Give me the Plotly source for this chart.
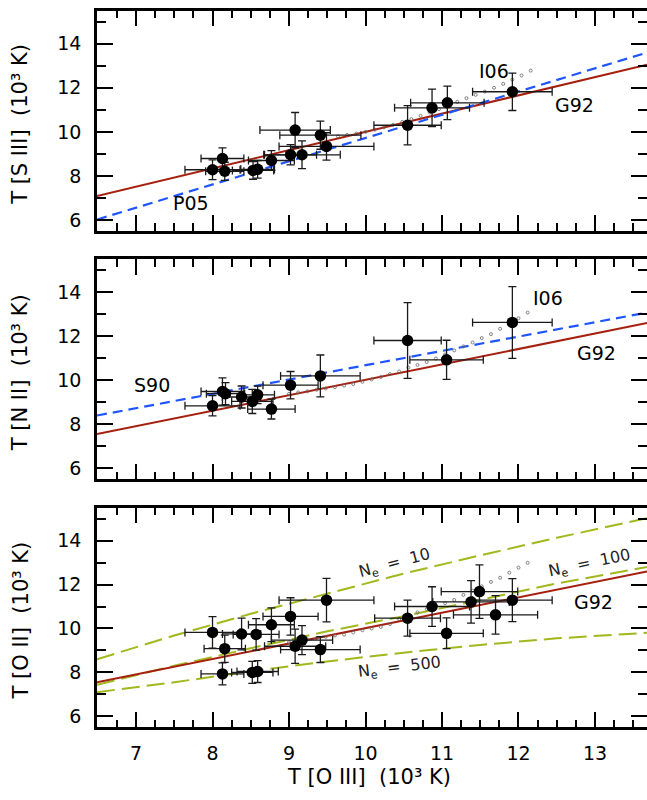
import plotly.graph_objects as go

# ---------------- data (10^3 K) ----------------
# Panel 1: T[S III] vs T[O III]
s3_x  = [8.00, 8.13, 8.16, 8.53, 8.59, 8.77, 9.02, 9.08, 9.17, 9.41, 9.49, 10.55, 10.87, 11.07, 11.92]
s3_y  = [8.28, 8.79, 8.21, 8.25, 8.30, 8.70, 8.96, 10.08, 8.96, 9.85, 9.34, 10.30, 11.09, 11.32, 11.82]
s3_ex = [0.36, 0.28, 0.25, 0.27, 0.22, 0.30, 0.34, 0.46, 0.50, 0.53, 0.62, 0.44, 0.49, 0.48, 0.52]
s3_ey = [0.45, 0.48, 0.41, 0.40, 0.40, 0.45, 0.46, 0.80, 0.63, 0.64, 0.62, 0.89, 0.85, 0.76, 0.85]

# Panel 2: T[N II] vs T[O III]
n2_x  = [8.00, 8.13, 8.17, 8.38, 8.52, 8.59, 8.77, 9.02, 9.41, 10.55, 11.06, 11.92]
n2_y  = [8.84, 9.49, 9.39, 9.24, 9.04, 9.34, 8.69, 9.78, 10.20, 11.81, 10.93, 12.63]
n2_ex = [0.36, 0.28, 0.25, 0.25, 0.27, 0.22, 0.31, 0.36, 0.52, 0.44, 0.48, 0.52]
n2_ey = [0.46, 0.62, 0.50, 0.50, 0.55, 0.40, 0.45, 0.62, 0.95, 1.72, 0.89, 1.63]

# Panel 3: T[O II] vs T[O III]
o2_x  = [8.00, 8.16, 8.13, 8.38, 8.52, 8.59, 8.57, 8.77, 9.02, 9.08, 9.17, 9.41, 9.49,
         10.55, 10.87, 11.06, 11.38, 11.49, 11.70, 11.92]
o2_y  = [9.82, 9.08, 7.93, 9.75, 8.00, 8.04, 9.73, 10.17, 10.55, 9.19, 9.47, 9.04, 11.29,
         10.47, 11.00, 9.78, 11.21, 11.68, 10.62, 11.29]
o2_ex = [0.36, 0.27, 0.28, 0.25, 0.27, 0.27, 0.30, 0.30, 0.36, 0.40, 0.40, 0.52, 0.62,
         0.43, 0.49, 0.48, 0.50, 0.50, 0.55, 0.52]
o2_ey = [0.72, 0.62, 0.50, 0.72, 0.50, 0.50, 0.72, 0.77, 0.85, 0.78, 0.66, 0.59, 0.99,
         0.82, 0.90, 0.70, 0.97, 1.22, 0.88, 0.98]

# Relations (endpoints / points)
line_x = [6.49, 13.68]
g92_s3 = [7.09, 13.05]
p05_s3 = [6.02, 13.60]
g92_n2 = [7.56, 12.60]
s90_n2 = [8.40, 13.08]
g92_o2 = [7.55, 12.60]

ne_x     = [6.49, 7.5, 8.5, 9.5, 10.5, 11.5, 12.5, 13.68]
ne10_y   = [8.60, 9.68, 10.67, 11.60, 12.50, 13.33, 14.13, 15.02]
ne100_y  = [7.44, 8.30, 9.10, 9.87, 10.56, 11.30, 12.05, 12.80]
ne500_y  = [7.10, 7.55, 8.05, 8.50, 8.90, 9.25, 9.55, 9.80]

# I06 dotted relations
i06_s3_x = [9.64, 9.76, 9.88, 10.00, 10.12, 10.24, 10.36, 10.48, 10.60, 10.72, 10.84,
            10.96, 11.08, 11.20, 11.32, 11.44, 11.56, 11.68, 11.80, 11.92, 12.04, 12.16]
i06_s3_y = [9.80, 9.86, 9.92, 10.00, 10.10, 10.20, 10.32, 10.45, 10.58, 10.73, 10.88,
            11.03, 11.19, 11.36, 11.53, 11.68, 11.83, 12.00, 12.18, 12.37, 12.56, 12.78]
i06_x    = [9.00, 9.12, 9.24, 9.36, 9.48, 9.60, 9.72, 9.84, 9.96, 10.08, 10.20, 10.32, 10.44,
            10.56, 10.68, 10.80, 10.92, 11.04, 11.16, 11.28, 11.40, 11.52, 11.64, 11.76,
            11.88, 12.00, 12.12]
i06_n2_y = [9.38, 9.45, 9.50, 9.57, 9.63, 9.69, 9.76, 9.83, 9.93, 10.04, 10.15, 10.28, 10.40,
            10.58, 10.70, 10.83, 10.99, 11.17, 11.36, 11.54, 11.72, 11.92, 12.10, 12.34,
            12.58, 12.82, 13.08]
i06_o2_y = [9.37, 9.44, 9.50, 9.56, 9.62, 9.68, 9.72, 9.82, 9.92, 10.00, 10.07, 10.20, 10.43,
            10.62, 10.73, 10.88, 11.02, 11.15, 11.30, 11.53, 11.72, 11.92, 12.12, 12.31,
            12.54, 12.77, 12.99]

x_ticks = [7, 8, 9, 10, 11, 12, 13]
y_ticks = [6, 8, 10, 12, 14]

# ---------------- styling ----------------
FONT = "DejaVu Sans"
RED = "#a5200f"
BLUE = "#1f55ff"
GREEN = "#a2b81c"
W, H = 647, 800
ML = 97
PW = W - ML
panel_px = [(10.7, 231.0), (259.3, 479.3), (507.7, 727.3)]
XR = [6.49, 13.68]
YR = [5.5, 15.5]
TICKFS = 19
LABFS = 19
TITLEFS = 21
NB = "\u00a0"

fig = go.Figure()

def add_line(x, y, ax, color, dash, width=2.0):
    fig.add_trace(go.Scatter(x=x, y=y, mode="lines", xaxis=ax[0], yaxis=ax[1],
                             line=dict(color=color, width=width, dash=dash),
                             hoverinfo="skip", showlegend=False))

def add_dots(x, y, ax):
    fig.add_trace(go.Scatter(x=x, y=y, mode="markers", xaxis=ax[0], yaxis=ax[1],
                             marker=dict(symbol="circle-open", size=3, color="#666",
                                         line=dict(width=0.8, color="#666")),
                             hoverinfo="skip", showlegend=False))

def add_points(x, y, ex, ey, ax):
    fig.add_trace(go.Scatter(x=x, y=y, mode="markers", xaxis=ax[0], yaxis=ax[1],
                             marker=dict(size=11.5, color="black"),
                             error_x=dict(type="data", array=ex, color="#1a1a1a", thickness=1.3, width=4),
                             error_y=dict(type="data", array=ey, color="#1a1a1a", thickness=1.3, width=4),
                             showlegend=False))

axes = [("x", "y"), ("x2", "y2"), ("x3", "y3")]

# Panel 1
add_line(line_x, g92_s3, axes[0], RED, "solid")
add_line(line_x, p05_s3, axes[0], BLUE, "10px,6px", 2.2)
add_dots(i06_s3_x, i06_s3_y, axes[0])
add_points(s3_x, s3_y, s3_ex, s3_ey, axes[0])
# Panel 2
add_line(line_x, g92_n2, axes[1], RED, "solid")
add_line(line_x, s90_n2, axes[1], BLUE, "10px,6px", 2.2)
add_dots(i06_x, i06_n2_y, axes[1])
add_points(n2_x, n2_y, n2_ex, n2_ey, axes[1])
# Panel 3
add_line(ne_x, ne10_y, axes[2], GREEN, "18px,7px")
add_line(ne_x, ne100_y, axes[2], GREEN, "18px,7px")
add_line(ne_x, ne500_y, axes[2], GREEN, "18px,7px")
add_line(line_x, g92_o2, axes[2], RED, "solid")
add_dots(i06_x, i06_o2_y, axes[2])
add_points(o2_x, o2_y, o2_ex, o2_ey, axes[2])

# empty traces to activate right-side tick axes
for i in range(3):
    fig.add_trace(go.Scatter(x=[None], y=[None], xaxis=axes[i][0], yaxis="y%d" % (i + 4),
                             showlegend=False, hoverinfo="skip"))

layout = dict(width=W, height=H, margin=dict(l=ML, r=0, t=0, b=0),
              plot_bgcolor="white", paper_bgcolor="white",
              font=dict(family=FONT, size=18, color="black"), showlegend=False)

for i, (top, bot) in enumerate(panel_px):
    dom = [1 - bot / H, 1 - top / H]
    xn = "xaxis" if i == 0 else "xaxis%d" % (i + 1)
    yn = "yaxis" if i == 0 else "yaxis%d" % (i + 1)
    ya = "y" if i == 0 else "y%d" % (i + 1)
    xa = "x" if i == 0 else "x%d" % (i + 1)
    layout[xn] = dict(domain=[0, 1], anchor=ya, range=XR, showgrid=False, zeroline=False,
                      showline=True, linewidth=2.5, linecolor="black", mirror="ticks",
                      ticks="inside", ticklen=16, tickwidth=2, tickcolor="black",
                      tickvals=x_ticks, showticklabels=(i == 2), ticklabelstandoff=7,
                      tickfont=dict(size=TICKFS),
                      minor=dict(dtick=0.25, tick0=0, ticks="inside", ticklen=8, tickwidth=2,
                                 tickcolor="black", showgrid=False))
    layout[yn] = dict(domain=dom, anchor=xa, range=YR, showgrid=False, zeroline=False,
                      showline=True, linewidth=2.5, linecolor="black", mirror=False,
                      ticks="inside", ticklen=16, tickwidth=2, tickcolor="black",
                      tickvals=y_ticks, ticklabelstandoff=9, tickfont=dict(size=TICKFS),
                      minor=dict(dtick=1, tick0=0, ticks="inside", ticklen=9, tickwidth=2,
                                 tickcolor="black", showgrid=False))
    layout["yaxis%d" % (i + 4)] = dict(domain=dom, anchor=xa, overlaying=ya, side="right",
                                       range=YR, showgrid=False, zeroline=False, showline=False,
                                       ticks="inside", ticklen=16, tickwidth=2, tickcolor="black",
                                       tickvals=y_ticks, showticklabels=False,
                                       minor=dict(dtick=1, tick0=0, ticks="inside", ticklen=9,
                                                  tickwidth=2, tickcolor="black", showgrid=False))

fig.update_layout(**layout)

# axis titles
def title_text(ion, stage):
    return "T" + NB + "[" + ion + NB + stage + "]" + NB * 2 + "(10³" + NB + "K)"

ytitles = [title_text("S", "III"), title_text("N", "II"), title_text("O", "II")]
for i, (top, bot) in enumerate(panel_px):
    yc = 1 - ((top + bot) / 2 + 3) / H
    fig.add_annotation(text=ytitles[i], xref="paper", yref="paper", x=(20 - ML) / PW, y=yc,
                       xanchor="center", yanchor="middle", textangle=-90, showarrow=False,
                       font=dict(size=TITLEFS))
fig.add_annotation(text=title_text("O", "III"),
                   xref="x3", yref="paper", x=10.05,
                   y=1 - 777 / H, xanchor="center", yanchor="middle", showarrow=False,
                   font=dict(size=TITLEFS))

# in-panel labels
labels = [
    ("I06", 11.68, 12.75, "x", "y", 0, LABFS),
    ("G92", 12.73, 11.21, "x", "y", 0, LABFS),
    ("P05", 7.72, 6.76, "x", "y", 0, LABFS),
    ("S90", 7.21, 9.77, "x2", "y2", 0, LABFS),
    ("I06", 12.38, 13.76, "x2", "y2", 0, LABFS),
    ("G92", 13.02, 11.23, "x2", "y2", 0, LABFS),
    ("G92", 12.98, 11.22, "x3", "y3", 0, LABFS),
    ("N<sub>e</sub>" + NB * 2 + "=" + NB * 2 + "10", 10.38, 12.98, "x3", "y3", -15, 16),
    ("N<sub>e</sub>" + NB * 2 + "=" + NB * 2 + "100", 12.93, 12.95, "x3", "y3", -12, 16),
    ("N<sub>e</sub>" + NB * 2 + "=" + NB * 2 + "500", 10.45, 8.22, "x3", "y3", -7, 16),
]
for t, x, y, xr, yr, ang, fs in labels:
    fig.add_annotation(text=t, x=x, y=y, xref=xr, yref=yr, showarrow=False, textangle=ang,
                       xanchor="center", yanchor="middle",
                       font=dict(size=fs, color="#222" if fs < 17 else "black"))

fig.write_html("out.html", config={"displayModeBar": False},
               post_script="document.body.style.margin='0';document.body.style.overflow='hidden';")
